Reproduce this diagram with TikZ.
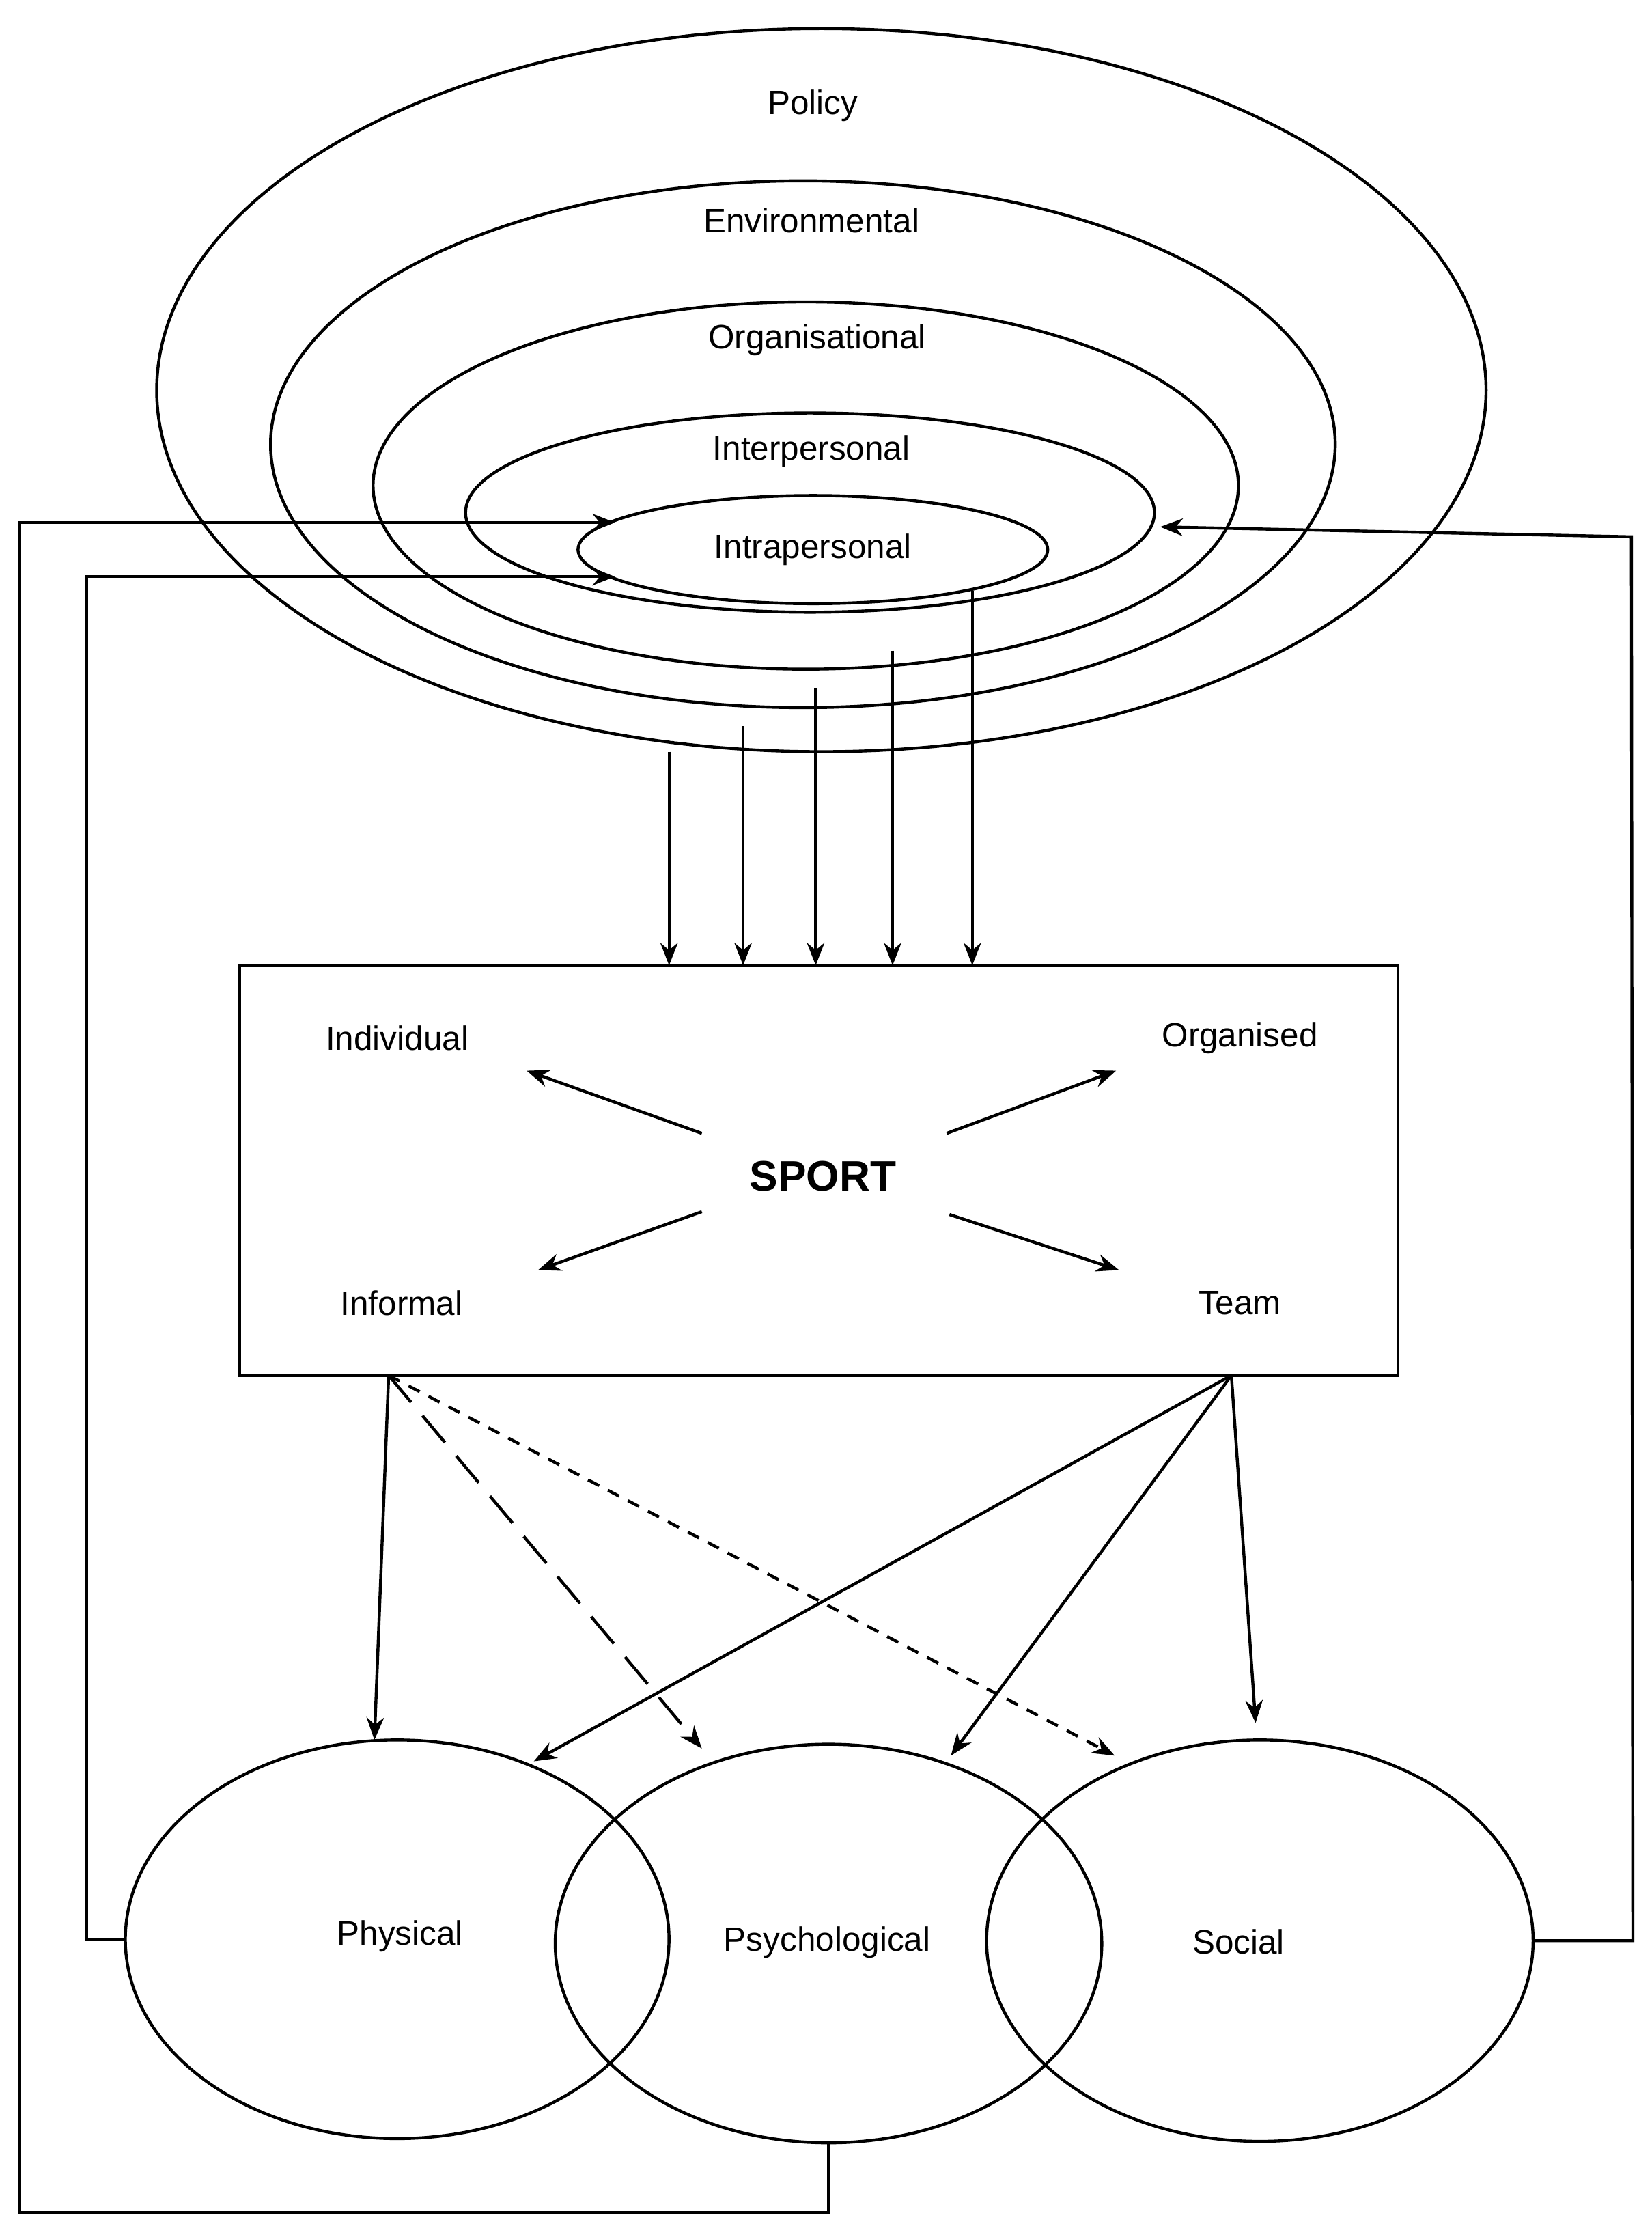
\documentclass[tikz,border=0pt]{standalone}
\usepackage{fontspec}
\setmainfont{Liberation Sans}
\usetikzlibrary{shapes.geometric,arrows.meta}
\begin{document}
\begin{tikzpicture}[x=0.02cm,y=-0.02cm,
  line width=1.2pt,
  el/.style={draw,ellipse,inner sep=0pt},
  lbl/.style={font=\fontsize{13.5}{16}\selectfont},
  arr/.style={-{Stealth[length=9pt,width=7pt]}}]
\useasboundingbox (0,0) rectangle (1160,1562);
% nested ellipses
\node[el,minimum width=18.68cm,minimum height=10.16cm] (pol) at (577,274) {};
\node[el,minimum width=14.96cm,minimum height=7.4cm] (env) at (564,312) {};
\node[el,minimum width=12.16cm,minimum height=5.16cm] (org) at (566,341) {};
\node[el,minimum width=9.68cm,minimum height=2.8cm] (int) at (569,360) {};
\node[el,minimum width=6.6cm,minimum height=1.52cm] (intra) at (571,386) {};
\node[lbl] (tpol) at (571,74) {Policy};
\node[lbl] (tenv) at (570,155) {Environmental};
\node[lbl] (torg) at (574,239) {Organisational};
\node[lbl] (tint) at (570,317) {Interpersonal};
\node[lbl] (tintra) at (571,386) {Intrapersonal};
% sport box
\node[draw,minimum width=16.28cm,minimum height=5.76cm,inner sep=0pt] (box) at (575,822) {};
\node[lbl] (ind) at (279,729) {Individual};
\node[lbl] (orgd) at (871,729) {Organised};
\node[lbl] (inf) at (282,915) {Informal};
\node[lbl] (team) at (871,915) {Team};
\node[font=\fontsize{17}{20}\selectfont\bfseries] (sport) at (578,826) {SPORT};
\draw[arr] (493,796) coordinate (s1) -- (370,752) coordinate (e1);
\draw[arr] (665,796) coordinate (s2) -- (784,752) coordinate (e2);
\draw[arr] (493,851) coordinate (s3) -- (378,892) coordinate (e3);
\draw[arr] (667,853) coordinate (s4) -- (786,892) coordinate (e4);
% vertical arrows
\foreach \x/\y in {470/528,522/510,573/483,627/457,683/415}
  \draw[arr] (\x,\y) -- (\x,678);
% outcome ellipses
\node[el,minimum width=7.64cm,minimum height=5.6cm] (phy) at (279,1362) {};
\node[el,minimum width=7.68cm,minimum height=5.6cm] (psy) at (582,1365) {};
\node[el,minimum width=7.68cm,minimum height=5.64cm] (soc) at (885,1363) {};
\node[lbl] at (281,1360) {Physical};
\node[lbl] at (581,1364) {Psychological};
\node[lbl] at (870,1364) {Social};
\coordinate (A) at (273,966);
\coordinate (B) at (865,966);
\draw[arr] (A) -- (263,1222);
\draw[arr,dash pattern=on 14pt off 7pt] (A) -- (493,1228);
\draw[arr,dash pattern=on 5pt off 4pt] (A) -- (783,1233);
\draw[arr] (B) -- (375,1237);
\draw[arr] (B) -- (668,1233);
\draw[arr] (B) -- (882,1210);
% feedback
\draw[arr] (phy.west) -- ++(-26,0) |- (432,405);
\draw[arr] (psy.south) -- ++(0,48) -| (14,367) -- (432,367);
\draw[arr] (soc.east) -- ++(69,0) -- (1146,377) -- (815,370);
\end{tikzpicture}
\end{document}
